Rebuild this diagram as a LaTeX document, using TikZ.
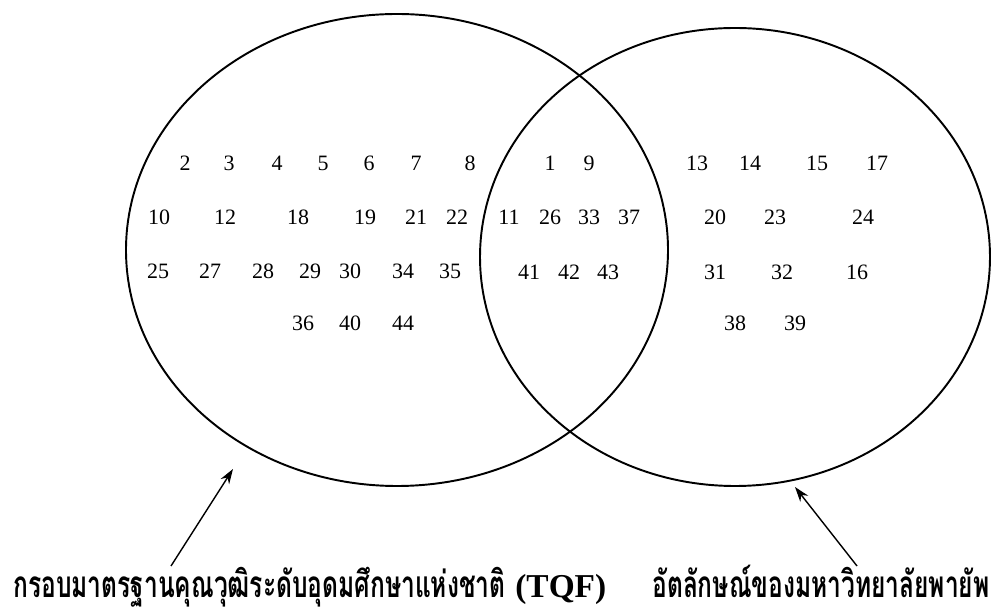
\documentclass[tikz,border=0pt]{standalone}
\usepackage{fontspec}
\setmainfont{Liberation Serif}
\newfontfamily\thaifont[Script=Thai]{Loma}
\usetikzlibrary{arrows.meta}

\begin{document}
\begin{tikzpicture}[x=0.02cm,y=-0.02cm]
\tikzset{every node/.style={inner sep=0pt,font=\fontsize{12.5}{14}\selectfont},
  setline/.style={black,line width=1.1pt},
  pointer/.style={black,line width=0.8pt,-{Stealth[length=3mm,width=2mm]}},
  caption/.style={anchor=base west,font=\thaifont\bfseries\fontsize{21}{23}\selectfont}}
\useasboundingbox (0,0) rectangle (1001,607);
% the two sets
\draw [setline] (397,250) ellipse (271 and 236);
\draw [setline] (735,257) ellipse (255 and 229);
% TQF only
\node (n2) at (185,163) {2};
\node (n3) at (229,163) {3};
\node (n4) at (277,163) {4};
\node (n5) at (323,163) {5};
\node (n6) at (369,163) {6};
\node (n7) at (416,163) {7};
\node (n8) at (470,163) {8};
\node (n10) at (159,217) {10};
\node (n12) at (225,217) {12};
\node (n18) at (298,217) {18};
\node (n19) at (365,217) {19};
\node (n21) at (416,217) {21};
\node (n22) at (457,217) {22};
\node (n25) at (158,271) {25};
\node (n27) at (210,271) {27};
\node (n28) at (263,271) {28};
\node (n29) at (310,271) {29};
\node (n30) at (350,271) {30};
\node (n34) at (403,271) {34};
\node (n35) at (450,271) {35};
\node (n36) at (303,323) {36};
\node (n40) at (350,323) {40};
\node (n44) at (403,323) {44};
% both
\node (n1) at (550,163) {1};
\node (n9) at (589,163) {9};
\node (n11) at (509,217) {11};
\node (n26) at (550,217) {26};
\node (n33) at (589,217) {33};
\node (n37) at (629,217) {37};
\node (n41) at (529,272) {41};
\node (n42) at (569,272) {42};
\node (n43) at (608,272) {43};
% identity only
\node (n13) at (697,163) {13};
\node (n14) at (750,163) {14};
\node (n15) at (817,163) {15};
\node (n17) at (877,163) {17};
\node (n20) at (715,217) {20};
\node (n23) at (775,217) {23};
\node (n24) at (863,217) {24};
\node (n31) at (715,272) {31};
\node (n32) at (782,272) {32};
\node (n16) at (857,272) {16};
\node (n38) at (735,323) {38};
\node (n39) at (795,323) {39};
% captions
\node [caption] (tqf) at (13,598) {\scalebox{0.665}[1]{กรอบมาตรฐานคุณวุฒิระดับอุดมศึกษาแห่งชาติ}\hspace{2mm}{\fontspec{Liberation Serif}\bfseries\fontsize{19}{21}\selectfont(TQF)}};
\node [caption] (ident) at (652,598) {\scalebox{0.665}[1]{อัตลักษณ์ของมหาวิทยาลัยพายัพ}};
\coordinate (tqftail) at (171,566);
\coordinate (tqfhead) at (233,469);
\coordinate (identtail) at (857,566);
\coordinate (identhead) at (795,487);
\draw [pointer] (tqftail) -- (tqfhead);
\draw [pointer] (identtail) -- (identhead);
\end{tikzpicture}
\end{document}
